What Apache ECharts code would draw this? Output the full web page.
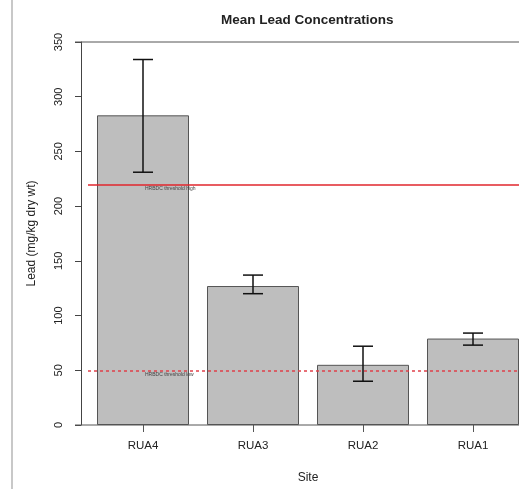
<!DOCTYPE html>
<html>
<head>
<meta charset="utf-8">
<script src="https://cdn.jsdelivr.net/npm/echarts@6/dist/echarts.min.js"></script>
<style>
html,body{margin:0;padding:0;background:#fff;overflow:hidden;}
#chart{width:528px;height:489px;}
</style>
</head>
<body>
<div id="chart"></div>
<script>
const categories = ['RUA4', 'RUA3', 'RUA2', 'RUA1'];
const meanLead = [283, 127, 55, 79];
const errLow = [231, 120, 40, 73];
const errHigh = [334, 137, 72, 84];
const yTicks = [0, 50, 100, 150, 200, 250, 300, 350];
const thresholdHigh = 220;
const thresholdLow = 50;
const thresholdHighLabel = 'HRBDC threshold high';
const thresholdLowLabel = 'HRBDC threshold low';

const FONT = '"Liberation Sans", Arial, sans-serif';
const chart = echarts.init(document.getElementById('chart'), null, {renderer: 'canvas'});

const errData = categories.map((c, i) => [i, errLow[i], errHigh[i]]);

chart.setOption({
  animation: false,
  backgroundColor: '#fff',
  title: {
    text: 'Mean Lead Concentrations',
    left: 216, top: 8,
    textStyle: {fontFamily: FONT, fontSize: 13.5, fontWeight: 'bold', color: '#222'}
  },
  grid: {left: 88, top: 42, right: 0, bottom: 55, containLabel: false},
  xAxis: {
    type: 'category',
    data: categories,
    name: 'Site',
    nameLocation: 'middle',
    nameGap: 47,
    nameTextStyle: {fontFamily: FONT, fontSize: 12, color: '#222'},
    axisLine: {show: false},
    axisTick: {show: true, alignWithLabel: true, length: 7, lineStyle: {color: '#555'}},
    axisLabel: {fontFamily: FONT, fontSize: 11.5, color: '#222', margin: 15}
  },
  yAxis: {
    type: 'value',
    min: 0, max: 350, interval: 50,
    offset: 7,
    name: 'Lead (mg/kg dry wt)',
    nameLocation: 'middle',
    nameGap: 43,
    nameTextStyle: {fontFamily: FONT, fontSize: 12, color: '#222'},
    axisLine: {show: true, lineStyle: {color: '#444', width: 1}},
    axisTick: {show: true, length: 6, lineStyle: {color: '#444'}},
    axisLabel: {fontFamily: FONT, fontSize: 11, color: '#222', rotate: 90, margin: 17,
      formatter: v => yTicks.includes(v) ? String(v) : ''},
    splitLine: {show: false}
  },
  series: [
    {
      type: 'bar',
      data: meanLead,
      barWidth: 92,
      itemStyle: {color: '#bebebe', borderColor: '#555', borderWidth: 1},
      markLine: {
        silent: true,
        symbol: 'none',
        lineStyle: {color: '#e0262c'},
        data: [
          {yAxis: thresholdHigh, lineStyle: {color: '#e0262c', width: 1.5, type: 'solid'},
           label: {show: true, formatter: thresholdHighLabel, position: 'insideStartBottom'}},
          {yAxis: thresholdLow, lineStyle: {color: '#e0404a', width: 1.5, type: [3, 3]},
           label: {show: true, formatter: thresholdLowLabel, position: 'insideStartBottom'}}
        ],
        label: {fontFamily: FONT, fontSize: 5, color: '#444', distance: [57, 2]}
      },
      z: 2
    },
    {
      type: 'custom',
      data: errData,
      z: 5,
      renderItem: function (params, api) {
        const x = api.value(0);
        const lo = api.coord([x, api.value(1)]);
        const hi = api.coord([x, api.value(2)]);
        const hw = 10;
        const st = {stroke: '#111', lineWidth: 1.5};
        return {
          type: 'group',
          children: [
            {type: 'line', shape: {x1: lo[0], y1: lo[1], x2: hi[0], y2: hi[1]}, style: st},
            {type: 'line', shape: {x1: lo[0] - hw, y1: lo[1], x2: lo[0] + hw, y2: lo[1]}, style: st},
            {type: 'line', shape: {x1: hi[0] - hw, y1: hi[1], x2: hi[0] + hw, y2: hi[1]}, style: st}
          ]
        };
      }
    }
  ]
});

// frame lines at the axis extremes, placed through the axis scale
const yTop = chart.convertToPixel({yAxisIndex: 0}, 350);
const yBot = chart.convertToPixel({yAxisIndex: 0}, 0);
const axisX = 81;
chart.setOption({
  graphic: [
    {type: 'line', shape: {x1: axisX - 6, y1: yTop, x2: 528, y2: yTop}, style: {stroke: '#555', lineWidth: 1}, z: 10},
    {type: 'line', shape: {x1: axisX - 6, y1: yBot, x2: 528, y2: yBot}, style: {stroke: '#555', lineWidth: 1}, z: 10},
    {type: 'rect', shape: {x: 11, y: 0, width: 2, height: 489}, style: {fill: '#c8c8c8'}, z: 10}
  ]
});
</script>
</body>
</html>
